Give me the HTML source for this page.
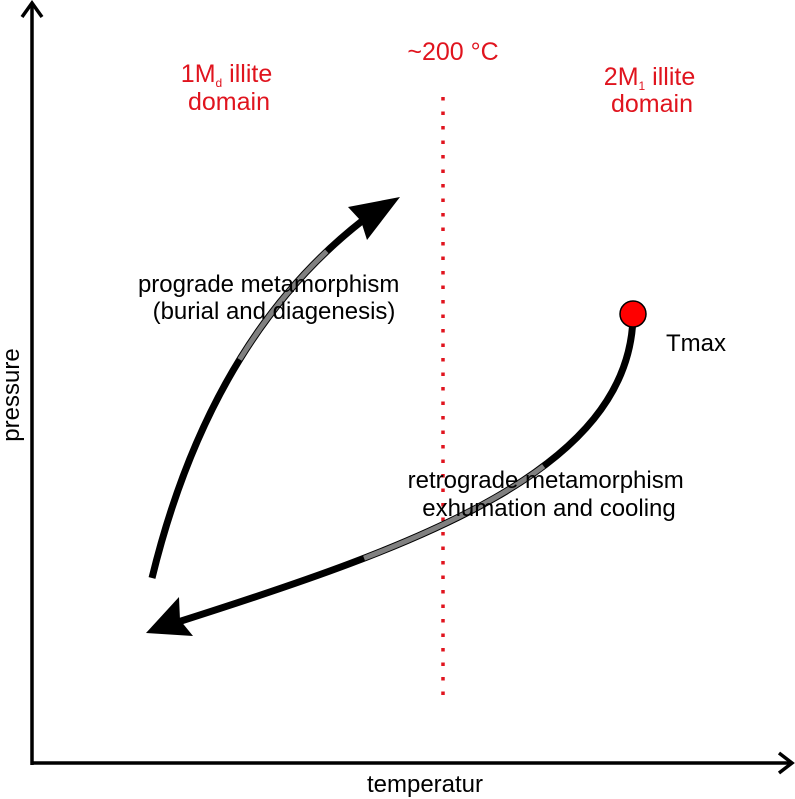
<!DOCTYPE html>
<html><head><meta charset="utf-8"><style>
html,body{margin:0;padding:0;background:#fff}
svg{display:block}
text{font-family:"Liberation Sans",Arial,sans-serif}
</style></head><body>
<svg width="795" height="799" viewBox="0 0 795 799">
  <g stroke="#000" stroke-width="3.5" fill="none">
    <line x1="32" y1="765" x2="32" y2="3"/>
    <polyline points="22,17 32,3 42,17"/>
  </g>
  <g stroke="#000" stroke-width="3.5" fill="none">
    <line x1="31" y1="763" x2="792" y2="763"/>
    <polyline points="779,753 792,763 779,773"/>
  </g>
  <text x="425" y="792" font-size="24" text-anchor="middle">temperatur</text>
  <text x="0" y="0" font-size="24" text-anchor="middle" transform="translate(19,395) rotate(-90)">pressure</text>

  <line x1="443" y1="97" x2="443" y2="702" stroke="#e0141e" stroke-width="3.5" stroke-dasharray="3.5,11"/>
  <text x="453" y="60" font-size="25" fill="#e0141e" text-anchor="middle">~200 °C</text>

  <text font-size="25" fill="#e0141e" text-anchor="middle">
    <tspan x="230" y="82">1M<tspan font-size="12" dy="5">d</tspan><tspan dy="-5"> illite</tspan></tspan>
    <tspan x="229" y="110">domain</tspan>
  </text>
  <text font-size="25" fill="#e0141e" text-anchor="middle">
    <tspan x="653" y="85">2M<tspan font-size="12" dy="5">1</tspan><tspan dy="-5"> illite</tspan></tspan>
    <tspan x="652" y="112">domain</tspan>
  </text>

  <g>
    <path d="M152,578 Q210,340 362,221" fill="none" stroke="#000" stroke-width="7"/>
    <path d="M152,578 Q210,340 362,221" fill="none" stroke="#808080" stroke-width="5" pathLength="100" stroke-dasharray="0,56,33,100"/>
    <polygon points="400,197 348,207 361,221 367,240" fill="#000"/>
  </g>
  <text font-size="24" text-anchor="middle">
    <tspan x="272" y="292">prograde metamorphism</tspan>
    <tspan x="274" y="319">(burial and diagenesis)</tspan>
  </text>

  <g>
    <path d="M633,318 C628,470 420,545 178,622" fill="none" stroke="#000" stroke-width="7"/>
    <path d="M633,318 C628,470 420,545 178,622" fill="none" stroke="#808080" stroke-width="5" pathLength="100" stroke-dasharray="0,31,35,100"/>
    <polygon points="146,633 179,597 180,620 193,636" fill="#000"/>
  </g>
  <circle cx="633" cy="314" r="13" fill="#ff0000" stroke="#000" stroke-width="1.5"/>
  <text x="666" y="351" font-size="24">Tmax</text>
  <text font-size="24" text-anchor="middle">
    <tspan x="549" y="488">retrograde metamorphism</tspan>
    <tspan x="549" y="516">exhumation and cooling</tspan>
  </text>
</svg>
</body></html>
